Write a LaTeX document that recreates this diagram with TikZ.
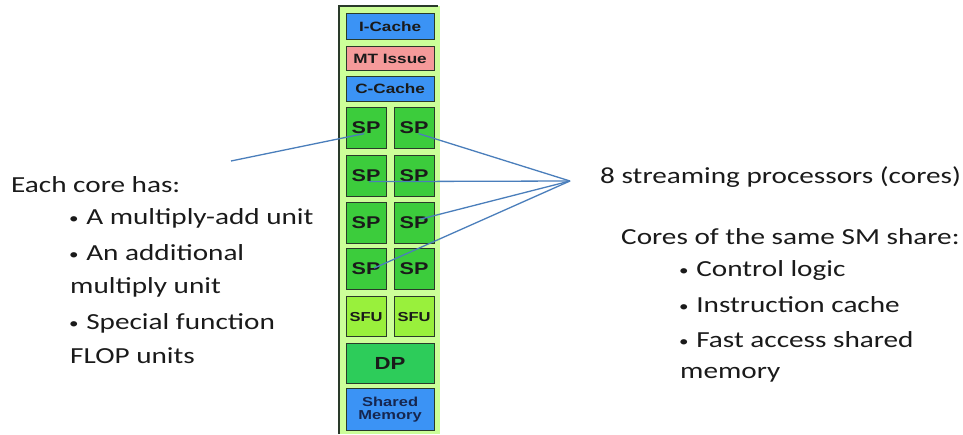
\documentclass[tikz,border=0pt]{standalone}
\usepackage{fontspec}
\setmainfont{Carlito}
\newfontfamily\arialfont{Liberation Sans}
\newcommand\sx[1]{\scalebox{1.27}[1]{#1}}
\newcommand\smb{{\fontsize{15}{15}\selectfont\raisebox{1pt}{•}}}
\definecolor{panelgreen}{HTML}{CCFF99}
\definecolor{cacheblue}{HTML}{3B93F5}
\definecolor{issuered}{HTML}{F59A9A}
\definecolor{spgreen}{HTML}{3CCC3C}
\definecolor{sfugreen}{HTML}{99F03C}
\definecolor{dpgreen}{HTML}{2DCC5A}
\definecolor{boxborder}{HTML}{2A3A2A}
\definecolor{linkblue}{HTML}{4A7EBB}
\definecolor{txt}{HTML}{1A1A1A}
\definecolor{navytxt}{HTML}{16264F}
\tikzset{
  unit/.style={draw=boxborder, line width=1.2pt, inner sep=0pt, anchor=north west,
    text=txt, font=\arialfont\bfseries, align=center},
  wide/.style={unit, minimum width=88pt},
  half/.style={unit, minimum width=40pt, minimum height=41pt},
  label/.style={anchor=west, inner sep=0pt, text=txt, font=\fontsize{23}{26}\selectfont},
  link/.style={draw=linkblue, line width=1.3pt}
}
\begin{document}
\begin{tikzpicture}[x=1pt,y=-1pt]
\useasboundingbox (0,0) rectangle (963,434);
% panel
\fill[panelgreen] (339,6) rectangle (440,434);
\draw[boxborder, line width=1.5pt] (339,434) -- (339,6) -- (438,6);
% cache / issue
\node[wide, fill=cacheblue, minimum height=26pt, font=\arialfont\bfseries\fontsize{13.5}{14}\selectfont] (icache) at (345.5,13) {\sx{I-Cache}};
\node[wide, fill=issuered, minimum height=24pt, font=\arialfont\bfseries\fontsize{13.5}{14}\selectfont] (mtissue) at (345.5,46) {\sx{MT Issue}};
\node[wide, fill=cacheblue, minimum height=25pt, font=\arialfont\bfseries\fontsize{13.5}{14}\selectfont] (ccache) at (345.5,76) {\sx{C-Cache}};
% SP cores
\foreach \r/\y in {1/107,2/155,3/202,4/248}{
  \node[half, fill=spgreen, font=\arialfont\bfseries\fontsize{17}{18}\selectfont] (sp\r1) at (345.5,\y) {\sx{SP}};
  \node[half, fill=spgreen, font=\arialfont\bfseries\fontsize{17}{18}\selectfont] (sp\r2) at (393.5,\y) {\sx{SP}};
}
\node[half, fill=sfugreen, minimum height=40pt, font=\arialfont\bfseries\fontsize{13}{15}\selectfont] (sfu1) at (345.5,296) {\sx{SFU}};
\node[half, fill=sfugreen, minimum height=40pt, font=\arialfont\bfseries\fontsize{13}{15}\selectfont] (sfu2) at (393.5,296) {\sx{SFU}};
\node[wide, fill=dpgreen, minimum height=40pt, font=\arialfont\bfseries\fontsize{17.5}{20}\selectfont] (dp) at (345.5,343) {\sx{DP}};
\node[wide, fill=cacheblue, minimum height=42pt, text=navytxt, font=\arialfont\bfseries\fontsize{13}{14}\selectfont] (shmem) at (345.5,388) {\sx{Shared}\\[-1pt]\sx{Memory}};
% left text
\node[label] (each) at (11,185) {\sx{Each core has:}};
\node[label] (l1) at (69,218) {\sx{\smb\hspace{6pt}A multiply-add unit}};
\node[label] (l2) at (69,253) {\sx{\smb\hspace{6pt}An additional}};
\node[label] (l3) at (70,287) {\sx{multiply unit}};
\node[label] (l4) at (69,323) {\sx{\smb\hspace{6pt}Special function}};
\node[label] (l5) at (70,356) {\sx{FLOP units}};
% right text
\node[label] (sp8) at (600,177) {\sx{8 streaming processors (cores)}};
\node[label] (share) at (621,237) {\sx{Cores of the same SM share:}};
\node[label] (r1) at (679,270) {\sx{\smb\hspace{6pt}Control logic}};
\node[label] (r2) at (679,305) {\sx{\smb\hspace{6pt}Instruction cache}};
\node[label] (r3) at (679,340) {\sx{\smb\hspace{6pt}Fast access shared}};
\node[label] (r4) at (680,375) {\sx{memory}};
% connectors
\coordinate (lend) at (231,161);
\coordinate (fan) at (570,181);
\draw[link] (lend) -- ([xshift=-2pt,yshift=-5.5pt]sp11.center);
\draw[link] (fan) -- ([xshift=4.5pt,yshift=-5.5pt]sp12.center);
\draw[link] (fan) -- ([xshift=3pt,yshift=-5.5pt]sp21.center);
\draw[link] (fan) -- ([xshift=6.5pt,yshift=4pt]sp32.center);
\draw[link] (fan) -- ([xshift=8pt,yshift=1pt]sp41.center);
\end{tikzpicture}
\end{document}
